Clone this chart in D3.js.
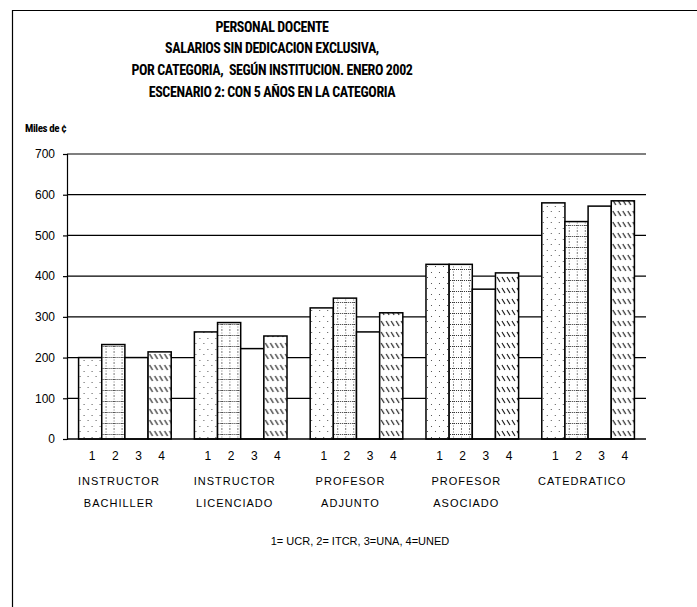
<!DOCTYPE html>
<html>
<head>
<meta charset="utf-8">
<script src="https://cdn.jsdelivr.net/npm/d3@7"></script>
<style>
  body { margin: 0; background: #fff; }
  text { font-family: "Liberation Sans", Arial, sans-serif; fill: #000; }
  .title { font-family: "Liberation Sans Narrow", "Roboto Condensed", "Liberation Sans", Arial, sans-serif; font-weight: bold; font-size: 14px; letter-spacing: -0.4px; white-space: pre; }
</style>
</head>
<body>
<svg id="chart" width="697" height="607"></svg>
<script>
const categories = [
  ["INSTRUCTOR", "BACHILLER"],
  ["INSTRUCTOR", "LICENCIADO"],
  ["PROFESOR", "ADJUNTO"],
  ["PROFESOR", "ASOCIADO"],
  ["CATEDRATICO"]
];
const series = ["1", "2", "3", "4"];
const ucr  = [200, 263, 322, 429, 580];
const itcr = [232, 286, 346, 429, 534];
const una  = [200, 222, 263, 368, 572];
const uned = [214, 253, 310, 408, 585];
const yTicks = [0, 100, 200, 300, 400, 500, 600, 700];
const titleLines = [
  "PERSONAL DOCENTE",
  "SALARIOS SIN DEDICACION EXCLUSIVA,",
  "POR CATEGORIA,  SEGÚN INSTITUCION. ENERO 2002",
  "ESCENARIO 2: CON 5 AÑOS EN LA CATEGORIA"
];
const yLabel = "Miles de ¢";
const legendText = "1= UCR, 2= ITCR, 3=UNA, 4=UNED";

const values = [ucr, itcr, una, uned];
const rows = categories.map((c, i) => ({ key: i, vals: series.map((s, j) => ({ s: s, j: j, v: values[j][i] })) }));

let svg = d3.select("#chart");

// frame
svg.append("path").attr("d", "M12.5,607 V10.5 H697").attr("fill", "none").attr("stroke", "#000").attr("stroke-width", 1.2);

// patterns
let defs = svg.append("defs");
let p1 = defs.append("pattern").attr("id", "pDots").attr("patternUnits", "userSpaceOnUse").attr("width", 8).attr("height", 11);
p1.append("rect").attr("width", 8).attr("height", 11).attr("fill", "#fff");
[[1, 2], [5, 8]].forEach(d => p1.append("rect").attr("x", d[0]).attr("y", d[1]).attr("width", 1).attr("height", 1).attr("fill", "#555"));

let p2 = defs.append("pattern").attr("id", "pGrid").attr("patternUnits", "userSpaceOnUse").attr("width", 8).attr("height", 11);
p2.append("rect").attr("width", 8).attr("height", 11).attr("fill", "#fff");
p2.append("line").attr("x1", 0).attr("x2", 8).attr("y1", 5.5).attr("y2", 5.5).attr("stroke", "#333").attr("stroke-width", 1).attr("stroke-dasharray", "1,1");
p2.append("line").attr("x1", 3.5).attr("x2", 3.5).attr("y1", 0).attr("y2", 11).attr("stroke", "#555").attr("stroke-width", 0.8).attr("stroke-dasharray", "1,1.5");

let p4 = defs.append("pattern").attr("id", "pHatch").attr("patternUnits", "userSpaceOnUse").attr("width", 5).attr("height", 11);
p4.append("rect").attr("width", 5).attr("height", 11).attr("fill", "#fff");
p4.append("line").attr("x1", 1).attr("y1", 2).attr("x2", 4).attr("y2", 7).attr("stroke", "#111").attr("stroke-width", 1.1);

const fills = ["url(#pDots)", "url(#pGrid)", "#fff", "url(#pHatch)"];

// title
svg.selectAll(".title").data(titleLines).enter().append("text")
  .attr("class", "title")
  .attr("x", 272)
  .attr("y", (d, i) => [32, 53, 75, 97][i])
  .attr("text-anchor", "middle")
  .text(d => d);

svg.append("text").attr("class", "title").attr("x", 25).attr("y", 132)
  .style("font-size", "11px").text(yLabel);

let margin = {top: 154, left: 67},
    width = 646 - 67,
    height = 439 - 154,
    g = svg.append("g").attr("transform", "translate(" + margin.left + "," + margin.top + ")");

let x0 = d3.scaleBand()
  .domain(rows.map(d => d.key))
  .range([0, width])
  .paddingInner(0.2)
  .paddingOuter(0.1);

let x1 = d3.scaleBand()
  .domain(series)
  .range([0, x0.bandwidth()]);

let y = d3.scaleLinear()
  .domain([0, 700])
  .range([height, 0]);

// gridlines
g.selectAll(".grid").data(yTicks.slice(1)).enter().append("line")
  .attr("x1", 0).attr("x2", width)
  .attr("y1", d => y(d)).attr("y2", d => y(d))
  .attr("stroke", "#000").attr("stroke-width", 1.2);

// bars
let groups = g.selectAll(".group").data(rows).enter().append("g")
  .attr("transform", d => "translate(" + x0(d.key) + ",0)");

groups.selectAll("rect").data(d => d.vals).enter().append("rect")
  .attr("x", d => x1(d.s))
  .attr("y", d => y(d.v))
  .attr("width", x1.bandwidth())
  .attr("height", d => height - y(d.v))
  .attr("fill", d => fills[d.j])
  .attr("stroke", "#000")
  .attr("stroke-width", 1.5);

// series numbers
groups.selectAll(".num").data(d => d.vals).enter().append("text")
  .attr("x", d => x1(d.s) + x1.bandwidth() / 2 + 2)
  .attr("y", height + 21)
  .attr("text-anchor", "middle")
  .style("font-size", "12px")
  .text(d => d.s);

// category labels
groups.each(function(d) {
  d3.select(this).selectAll(".cat").data(categories[d.key]).enter().append("text")
    .attr("x", x0.bandwidth() / 2 - 6)
    .attr("y", (t, i) => height + 46 + i * 22)
    .attr("text-anchor", "middle")
    .style("font-size", "11px")
    .style("letter-spacing", "1px")
    .text(t => t);
});

// y axis
let yAxis = g.append("g")
  .call(d3.axisLeft(y).tickValues(yTicks).tickSize(4).tickPadding(8).tickFormat(d3.format("d")));
yAxis.select(".domain").attr("stroke", "#000").attr("stroke-width", 1.2);
yAxis.selectAll(".tick line").attr("stroke", "#000").attr("stroke-width", 1.2);
yAxis.selectAll(".tick text").style("font-size", "12px").style("font-family", "'Liberation Sans', Arial, sans-serif").attr("fill", "#000");

// x baseline
g.append("line").attr("x1", 0).attr("x2", width).attr("y1", height).attr("y2", height)
  .attr("stroke", "#000").attr("stroke-width", 1.4);

// legend text
svg.append("text").attr("x", 360).attr("y", 545).attr("text-anchor", "middle")
  .style("font-size", "11px").text(legendText);
</script>
</body>
</html>
